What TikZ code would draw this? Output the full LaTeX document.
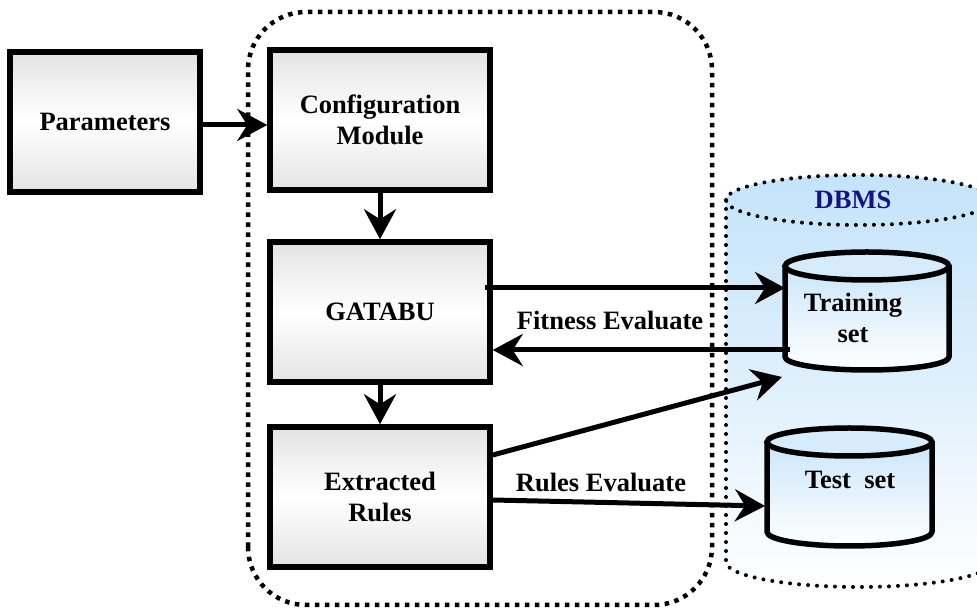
\documentclass[tikz,border=0pt]{standalone}
\usepackage{fontspec}
\setmainfont{Liberation Serif}
\usetikzlibrary{arrows.meta}

\definecolor{cylblue}{HTML}{C4E3FA}
\definecolor{boxgray}{HTML}{E3E3E3}
\definecolor{dbnavy}{HTML}{141488}

\newcommand\dgfont{\fontsize{26.5}{31}\selectfont\bfseries}

% cylinder body: #1 centre x, #2 x radius, #3 top y, #4 top y radius, #5 bottom y, #6 bottom y radius
\newcommand\drumshape[6]{%
  \shade[top color=cylblue, bottom color=white]
    (#1-#2,#3) -- (#1-#2,#5) arc (180:360:#2 and #6) -- (#1+#2,#3) arc (0:180:#2 and #4) -- cycle;
  \fill[cylblue!70!white] (#1,#3) ellipse (#2 and #4);
  \draw[line width=5.5pt, line join=round]
    (#1-#2,#3) -- (#1-#2,#5) arc (180:360:#2 and #6) -- (#1+#2,#3);
  \draw[line width=5.5pt] (#1,#3) ellipse (#2 and #4);
}

\tikzset{
  modbox/.style={draw, line width=5.5pt, minimum width=220pt, minimum height=140pt,
    top color=boxgray, bottom color=boxgray, middle color=white,
    align=center, font=\dgfont},
  txt/.style={align=center, font=\dgfont, inner sep=1pt},
  flow/.style={line width=5pt, -{Stealth[length=30pt, width=32pt, inset=10pt]}},
  sqdots/.style={line width=4.5pt, dash pattern=on 4.5pt off 5.5pt},
  rounddots/.style={line width=4pt, line cap=round, dash pattern=on 0pt off 9pt},
}

\begin{document}
\begin{tikzpicture}[x=1pt, y=1pt]
\useasboundingbox (0,0) rectangle (977,610);
\clip (0,0) rectangle (977,610);

% DBMS container
\shade[top color=cylblue, bottom color=white, middle color=cylblue!55!white]
  (726,410) -- (726,48) arc (180:360:133 and 25) -- (992,410) arc (0:180:133 and 25) -- cycle;
\draw[rounddots] (726,410) -- (726,48) arc (180:360:133 and 25) -- (992,410);
\draw[rounddots] (859,410) ellipse (133 and 25);
\node[txt, text=dbnavy] (dbms) at (853,410) {DBMS};

% system frame
\draw[sqdots, rounded corners=58pt] (248,5) rectangle (712,598);

% modules
\node[modbox, minimum width=190pt] (params) at (105,488) {Parameters};
\node[modbox] (cfg) at (380,490) {Configuration\\Module};
\node[modbox] (gatabu) at (380,298) {GATABU};
\node[modbox] (ext) at (380,113) {Extracted\\Rules};

% data sets
\drumshape{867}{82}{344}{14}{253}{13}
\node[txt] (train) at (853,292) {Training\\set};
\drumshape{849.5}{82.5}{168}{14}{78}{14}
\node[txt] (test) at (850,130) {Test~~set};

\coordinate (trainW) at (785,298);
\coordinate (trainSW) at (782,233);
\coordinate (testW) at (765,104);
\coordinate (gOut) at (485,322);
\coordinate (tOut) at (790,260);

% connectors
\draw[flow] (params.east |- 0,485) -- (cfg.west |- 0,485);
\draw[flow] (cfg.south) -- (gatabu.north);
\draw[flow] (gatabu.south) -- (ext.north);
\draw[flow] (gOut) -- (gOut -| trainW);
\draw[flow] (tOut) -- (tOut -| gatabu.east);
\draw[flow] (ext.east |- 0,155) -- (trainSW);
\draw[flow] (ext.east |- 0,110) -- (testW);

\node[txt] (fitness) at (610,290) {Fitness Evaluate};
\node[txt] (rules) at (601,128) {Rules Evaluate};
\end{tikzpicture}
\end{document}
